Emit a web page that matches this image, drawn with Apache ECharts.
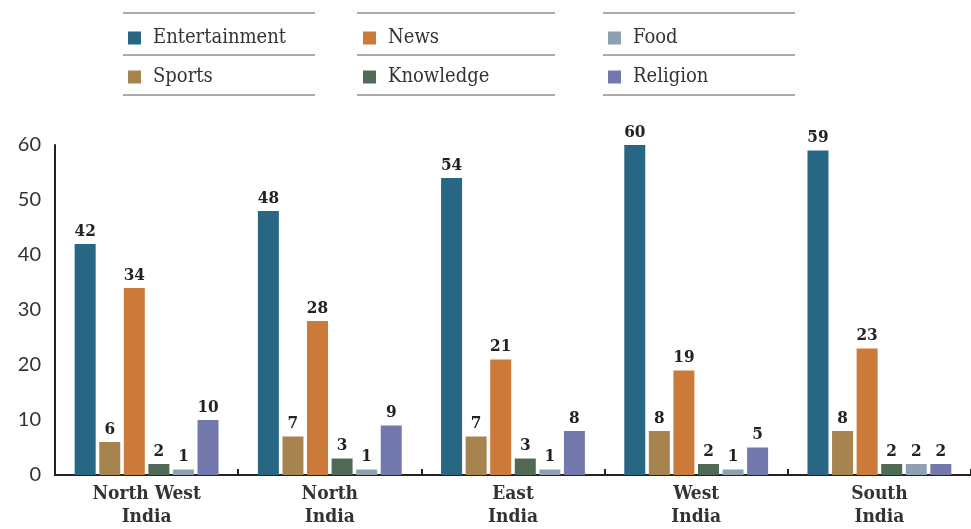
<!DOCTYPE html>
<html>
<head>
<meta charset="utf-8">
<script src="https://cdn.jsdelivr.net/npm/echarts@6/dist/echarts.min.js"></script>
<style>
  html, body { margin: 0; padding: 0; background: #fff; }
  #chart { width: 971px; height: 529px; }
</style>
</head>
<body>
<div id="chart"></div>
<script>
// Regions along the x axis
const regions = ['North West\nIndia', 'North\nIndia', 'East\nIndia', 'West\nIndia', 'South\nIndia'];

// Share of viewers by channel genre, per region
const entertainment = [42, 48, 54, 60, 59];
const sports        = [6, 7, 7, 8, 8];
const news          = [34, 28, 21, 19, 23];
const knowledge     = [2, 3, 3, 2, 2];
const food          = [1, 1, 1, 1, 2];
const religion      = [10, 9, 8, 5, 2];

const yTicks = [0, 10, 20, 30, 40, 50, 60];

const genres = [
  { name: 'Entertainment', data: entertainment, color: '#276784' },
  { name: 'Sports',        data: sports,        color: '#a6834f' },
  { name: 'News',          data: news,          color: '#cc7a3a' },
  { name: 'Knowledge',     data: knowledge,     color: '#506a55' },
  { name: 'Food',          data: food,          color: '#8fa1b0' },
  { name: 'Religion',      data: religion,      color: '#7479ad' }
];

const slab = '"DejaVu Serif Condensed", "DejaVu Serif", serif';

const legendCommon = {
  orient: 'vertical',
  top: 27,
  itemWidth: 13,
  itemHeight: 13,
  itemGap: 17,
  icon: 'rect',
  padding: 0,
  selectedMode: false,
  textStyle: { fontFamily: slab, fontSize: 20, color: '#333', padding: [0, 0, 0, 7], lineHeight: 22 }
};

// Thin rules framing the legend columns
const ruleCols = [[123, 315], [357, 555], [603, 795]];
const ruleRows = [13, 55, 95];
const rules = [];
ruleCols.forEach(([x1, x2]) => {
  ruleRows.forEach(y => {
    rules.push({
      type: 'line',
      shape: { x1: x1, y1: y, x2: x2, y2: y },
      style: { stroke: '#aaa', lineWidth: 2 }
    });
  });
});

const chart = echarts.init(document.getElementById('chart'), null, { renderer: 'canvas' });

chart.setOption({
  animation: false,
  backgroundColor: '#fff',
  graphic: rules,
  legend: [
    Object.assign({ left: 128, data: ['Entertainment', 'Sports'] }, legendCommon),
    Object.assign({ left: 363, data: ['News', 'Knowledge'] }, legendCommon),
    Object.assign({ left: 608, data: ['Food', 'Religion'] }, legendCommon)
  ],
  grid: { left: 55, right: -4, top: 145, bottom: 48, containLabel: false },
  xAxis: {
    type: 'category',
    data: regions,
    axisLine: { lineStyle: { color: '#222', width: 2 } },
    axisTick: { show: true, inside: true, length: 6, lineStyle: { color: '#222', width: 2 } },
    axisLabel: {
      fontFamily: slab,
      fontWeight: 'bold',
      fontSize: 19,
      color: '#333',
      lineHeight: 23,
      margin: 8
    }
  },
  yAxis: {
    type: 'value',
    min: yTicks[0],
    max: yTicks[yTicks.length - 1],
    interval: 10,
    splitLine: { show: false },
    axisLine: { show: true, lineStyle: { color: '#222', width: 2 } },
    axisTick: { show: false },
    axisLabel: { fontFamily: 'Lato, sans-serif', fontSize: 20, color: '#333', margin: 14 }
  },
  series: genres.map(g => ({
    name: g.name,
    type: 'bar',
    data: g.data,
    barWidth: 21,
    barGap: '17%',
    itemStyle: { color: g.color },
    label: {
      show: true,
      position: 'top',
      distance: 4,
      fontFamily: slab,
      fontWeight: 'bold',
      fontSize: 17,
      color: '#222'
    }
  }))
});
</script>
</body>
</html>
